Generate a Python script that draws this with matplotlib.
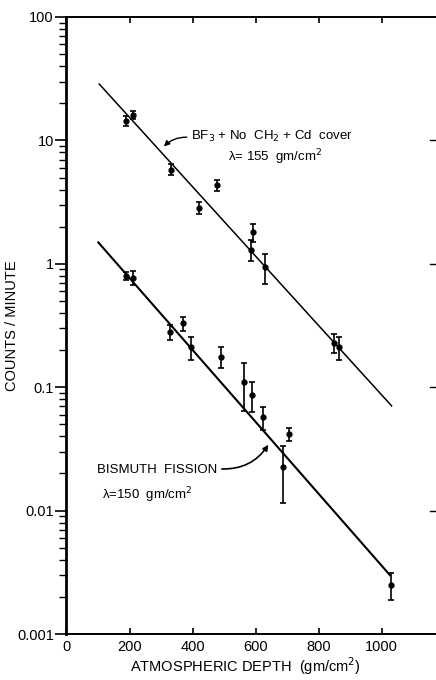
import numpy as np
import matplotlib
matplotlib.use("Agg")
import matplotlib.pyplot as plt
from matplotlib.ticker import FixedLocator, LogLocator, NullFormatter

# BF3 + No CH2 + Cd cover
bf3_depth = [189, 211, 331, 420, 476, 591, 585, 630, 848, 864]
bf3_counts = [14.4, 16.1, 5.8, 2.84, 4.37, 1.80, 1.30, 0.95, 0.23, 0.21]
bf3_err = [1.4, 1.3, 0.6, 0.3, 0.45, 0.3, 0.25, 0.26, 0.04, 0.045]
bf3_fit_depth = [104, 1031]
bf3_fit_counts = [28.6, 0.0707]

# bismuth fission
bi_depth = [189, 211, 328, 369, 394, 489, 563, 587, 622, 706, 688, 1029]
bi_counts = [0.80, 0.77, 0.28, 0.33, 0.21, 0.177, 0.111, 0.087, 0.057, 0.042, 0.0225, 0.0025]
bi_err = [0.06, 0.1, 0.04, 0.043, 0.045, 0.034, 0.047, 0.024, 0.012, 0.005, 0.011, 0.0006]
bi_fit_depth = [101, 1026]
bi_fit_counts = [1.49, 0.0030]

x_ticks = [0, 200, 400, 600, 800, 1000]
y_ticks = [0.001, 0.01, 0.1, 1, 10, 100]
y_labels = ["0.001", "0.01", "0.1", "1", "10", "100"]

plt.rcParams["font.family"] = ["Liberation Sans", "DejaVu Sans"]

fig = plt.figure(figsize=(4.36, 6.80), dpi=100)
ax = fig.add_axes([0.1525, 0.0676, 0.8475, 0.9074])

ax.plot(bf3_fit_depth, bf3_fit_counts, color="black", lw=1.1)
ax.plot(bi_fit_depth, bi_fit_counts, color="black", lw=1.5)
ax.errorbar(bf3_depth, bf3_counts, yerr=bf3_err, fmt="o", ms=3.5, color="black",
            ecolor="black", elinewidth=1.2, capsize=2, capthick=1.2)
ax.errorbar(bi_depth, bi_counts, yerr=bi_err, fmt="o", ms=3.5, color="black",
            ecolor="black", elinewidth=1.2, capsize=2, capthick=1.2)

ax.set_yscale("log")
ax.set_xlim(0, 1172)
ax.set_ylim(0.001, 100)

ax.xaxis.set_major_locator(FixedLocator(x_ticks))
ax.set_xticklabels([str(v) for v in x_ticks], fontsize=10.5)
ax.yaxis.set_major_locator(FixedLocator(y_ticks))
ax.set_yticklabels(y_labels, fontsize=10.5)
ax.yaxis.set_minor_locator(LogLocator(base=10, subs=np.arange(2, 10)))
ax.yaxis.set_minor_formatter(NullFormatter())

ax.tick_params(axis="x", which="major", direction="in", top=True, bottom=True,
               length=4, width=1.2, pad=4)
ax.tick_params(axis="y", which="major", direction="out", left=True, right=False,
               length=8, width=1.2, pad=1)
ax.tick_params(axis="y", which="minor", direction="out", left=True, right=False,
               length=5, width=1.0)
ax.spines["right"].set_visible(False)
ax.spines["left"].set_linewidth(2.0)
ax.spines["top"].set_linewidth(1.4)
ax.spines["bottom"].set_linewidth(1.4)

# short dashes on the right edge at the decades
for v in [0.01, 0.1, 1, 10]:
    ax.plot([1152, 1172], [v, v], color="black", lw=1.0, clip_on=False)

ax.set_xlabel("ATMOSPHERIC DEPTH  (gm/cm$^2$)", fontsize=10.5)
ax.xaxis.set_label_coords(0.483, -0.035)
ax.set_ylabel("COUNTS / MINUTE", fontsize=10.5)
ax.yaxis.set_label_coords(-0.128, 0.5)

ax.text(395, 10.8, "BF$_3$ + No  CH$_2$ + Cd  cover", fontsize=9.5, va="center", ha="left")
ax.text(512, 7.3, "\u03bb= 155  gm/cm$^2$", fontsize=9.5, va="center", ha="left")
ax.annotate("", xy=(303, 8.6), xytext=(390, 10.6),
            arrowprops=dict(arrowstyle="-|>", color="black", lw=1.0, mutation_scale=8,
                            connectionstyle="arc3,rad=0.25"))

ax.text(97, 0.0215, "BISMUTH  FISSION", fontsize=9.5, va="center", ha="left")
ax.text(113, 0.0133, "\u03bb=150  gm/cm$^2$", fontsize=9.5, va="center", ha="left")
ax.annotate("", xy=(645, 0.0357), xytext=(484, 0.0218),
            arrowprops=dict(arrowstyle="-|>", color="black", lw=1.2, mutation_scale=8,
                            connectionstyle="arc3,rad=0.3"))

fig.savefig("out.png", dpi=100)
